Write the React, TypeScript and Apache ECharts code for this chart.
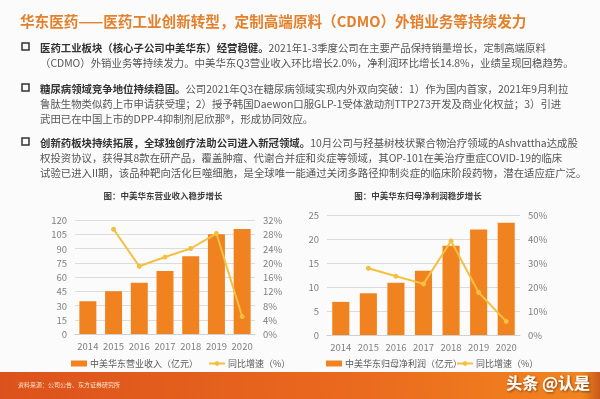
import React, { useEffect, useRef } from "react";
import * as echarts from "echarts";

const years = ["2014", "2015", "2016", "2017", "2018", "2019", "2020"];
const revenue = [34.5, 45, 54, 66.3, 81.8, 105, 110.5];
const revenueGrowth: (number | string)[] = ["-", 29.4, 19.0, 21.6, 24.0, 28.2, 4.9];
const netProfit = [6.9, 8.7, 10.9, 13.4, 18.6, 22.0, 23.4];
const profitGrowth: (number | string)[] = ["-", 27.8, 24.5, 21.3, 39.2, 17.7, 5.7];

const leftTicks = { min: 0, max: 120, interval: 15 };
const leftPctTicks = { min: 0, max: 32, interval: 4 };
const rightTicks = { min: 0, max: 25, interval: 5 };
const rightPctTicks = { min: 0, max: 50, interval: 10 };

const pageTitle = "华东医药——医药工业创新转型，定制高端原料（CDMO）外销业务等持续发力";
const paragraphs: string[][] = [
  [
    "{b|医药工业板块（核心子公司中美华东）经营稳健。}2021年1-3季度公司在主要产品保持销量增长，定制高端原料",
    "（CDMO）外销业务等持续发力。中美华东Q3营业收入环比增长2.0%，净利润环比增长14.8%，业绩呈现回稳趋势。",
  ],
  [
    "{b|糖尿病领域竞争地位持续稳固。}公司2021年Q3在糖尿病领域实现内外双向突破：1）作为国内首家，2021年9月利拉",
    "鲁肽生物类似药上市申请获受理；2）授予韩国Daewon口服GLP-1受体激动剂TTP273开发及商业化权益；3）引进",
    "武田已在中国上市的DPP-4抑制剂尼欣那®，形成协同效应。",
  ],
  [
    "{b|创新药板块持续拓展，全球独创疗法助公司进入新冠领域。}10月公司与羟基树枝状聚合物治疗领域的Ashvattha达成股",
    "权投资协议，获得其8款在研产品，覆盖肿瘤、代谢合并症和炎症等领域，其OP-101在美治疗重症COVID-19的临床",
    "试验已进入II期，该品种靶向活化巨噬细胞，是全球唯一能通过关闭多路径抑制炎症的临床阶段药物，潜在适应症广泛。",
  ],
];
const leftChartTitle = "图：中美华东营业收入稳步增长";
const rightChartTitle = "图：中美华东归母净利润稳步增长";
const leftBarName = "中美华东营业收入（亿元）";
const rightBarName = "中美华东归母净利润（亿元）";
const leftGrowthName = "同比增速（%） ";
const rightGrowthName = "同比增速（%）";
const sourceText = "资料来源：公司公告、东方证券研究所";
const watermark = "头条 @认是";

const FONT = "'Noto Sans CJK SC', 'Noto Sans', sans-serif";
const BAR = "#F0831F";
const LINE = "#F4C040";

export default function App() {
  const ref = useRef<HTMLDivElement>(null);
  useEffect(() => {
    if (!ref.current) return;
    const chart = echarts.init(ref.current, null, { renderer: "svg" });

    const paraStarts = [47, 88, 142];
    const lineH = 15;
    const graphics: any[] = [
      { type: "rect", shape: { x: 0, y: 0, width: 600, height: 399 }, style: { fill: "#FBFBFB" }, z: -10 },
      {
        type: "text",
        x: 20,
        y: 20,
        style: {
          text: pageTitle,
          fill: "#E3802C",
          font: `bold 14.6px ${FONT}`,
          verticalAlign: "middle",
        },
      },
    ];
    paragraphs.forEach((lines, pi) => {
      const y0 = paraStarts[pi];
      graphics.push({
        type: "rect",
        shape: { x: 22, y: y0 - 4, width: 7, height: 7 },
        style: { fill: "none", stroke: "#333", lineWidth: 1.5 },
      });
      lines.forEach((ln, li) => {
        graphics.push({
          type: "text",
          x: 40,
          y: y0 + li * lineH,
          style: {
            text: ln,
            fill: "#555",
            font: `10.4px ${FONT}`,
            verticalAlign: "middle",
            rich: {
              b: { fontWeight: "bold", fill: "#333", fontSize: 10.4, fontFamily: FONT },
            },
          },
        });
      });
    });
    graphics.push(
      { type: "text", x: 163, y: 195, style: { text: leftChartTitle, fill: "#404040", font: `bold 8.5px ${FONT}`, align: "center", verticalAlign: "middle" } },
      { type: "text", x: 418, y: 195, style: { text: rightChartTitle, fill: "#404040", font: `bold 8.5px ${FONT}`, align: "center", verticalAlign: "middle" } },
      {
        type: "rect",
        shape: { x: 0, y: 372, width: 600, height: 27 },
        style: {
          fill: new echarts.graphic.LinearGradient(0, 0, 1, 0, [
            { offset: 0, color: "#DC521C" },
            { offset: 0.6, color: "#EA6A1E" },
            { offset: 0.97, color: "#F2841F" },
            { offset: 1, color: "#C85A1A" },
          ]),
        },
      },
      { type: "text", x: 18, y: 384, style: { text: sourceText, fill: "#FBE3D0", font: `6px ${FONT}`, verticalAlign: "middle" } },
      {
        type: "text",
        x: 590,
        y: 382,
        style: {
          text: watermark,
          fill: "#FFFFFF",
          font: `bold 16px ${FONT}`,
          align: "right",
          verticalAlign: "middle",
          textShadowColor: "rgba(0,0,0,0.5)",
          textShadowBlur: 2,
          textShadowOffsetX: 1,
          textShadowOffsetY: 1,
        },
      }
    );

    const axisLabel = { color: "#7F7F7F", fontSize: 9.5, fontFamily: FONT };
    const splitLine = { lineStyle: { color: "#DCDCDC", width: 1 } };
    const legendBase = {
      top: 354,
      itemWidth: 16,
      itemHeight: 6,
      itemGap: 3,
      textStyle: { color: "#595959", fontSize: 9, fontFamily: FONT, padding: [0, 0, 0, -2] },
    };

    chart.setOption({
      animation: false,
      textStyle: { fontFamily: FONT },
      graphic: graphics,
      grid: [
        { left: 75, right: 345, top: 220, bottom: 65 },
        { left: 327, right: 80, top: 215, bottom: 64 },
      ],
      legend: [
        { ...legendBase, left: 66, data: [{ name: leftBarName, icon: "rect" }] },
        { ...legendBase, left: 203, data: [{ name: leftGrowthName }] },
        { ...legendBase, left: 321, data: [{ name: rightBarName, icon: "rect" }] },
        { ...legendBase, left: 451, data: [{ name: rightGrowthName }] },
      ],
      xAxis: [0, 1].map((gi) => ({
        type: "category",
        gridIndex: gi,
        data: years,
        axisLine: { lineStyle: { color: "#D0D0D0" } },
        axisTick: { show: false },
        axisLabel: { ...axisLabel, fontSize: 9.5, margin: 7, interval: 0 },
      })),
      yAxis: [
        { type: "value", gridIndex: 0, ...leftTicks, axisLabel, splitLine, axisLine: { show: false }, axisTick: { show: false } },
        { type: "value", gridIndex: 0, ...leftPctTicks, axisLabel: { ...axisLabel, formatter: "{value}%" }, splitLine: { show: false }, axisLine: { show: false }, axisTick: { show: false } },
        { type: "value", gridIndex: 1, ...rightTicks, axisLabel, splitLine, axisLine: { show: false }, axisTick: { show: false } },
        { type: "value", gridIndex: 1, ...rightPctTicks, axisLabel: { ...axisLabel, formatter: "{value}%" }, splitLine: { show: false }, axisLine: { show: false }, axisTick: { show: false } },
      ],
      series: [
        { name: leftBarName, type: "bar", xAxisIndex: 0, yAxisIndex: 0, data: revenue, barWidth: "66%", itemStyle: { color: BAR } },
        {
          name: leftGrowthName,
          type: "line",
          xAxisIndex: 0,
          yAxisIndex: 1,
          data: revenueGrowth,
          symbol: "circle",
          symbolSize: 5,
          lineStyle: { color: LINE, width: 2 },
          itemStyle: { color: LINE },
        },
        { name: rightBarName, type: "bar", xAxisIndex: 1, yAxisIndex: 2, data: netProfit, barWidth: "62%", itemStyle: { color: BAR } },
        {
          name: rightGrowthName,
          type: "line",
          xAxisIndex: 1,
          yAxisIndex: 3,
          data: profitGrowth,
          symbol: "circle",
          symbolSize: 5,
          lineStyle: { color: LINE, width: 2 },
          itemStyle: { color: LINE },
        },
      ],
    });
    return () => chart.dispose();
  }, []);
  return <div ref={ref} style={{ position: "fixed", left: 0, top: 0, width: 600, height: 399 }} />;
}
